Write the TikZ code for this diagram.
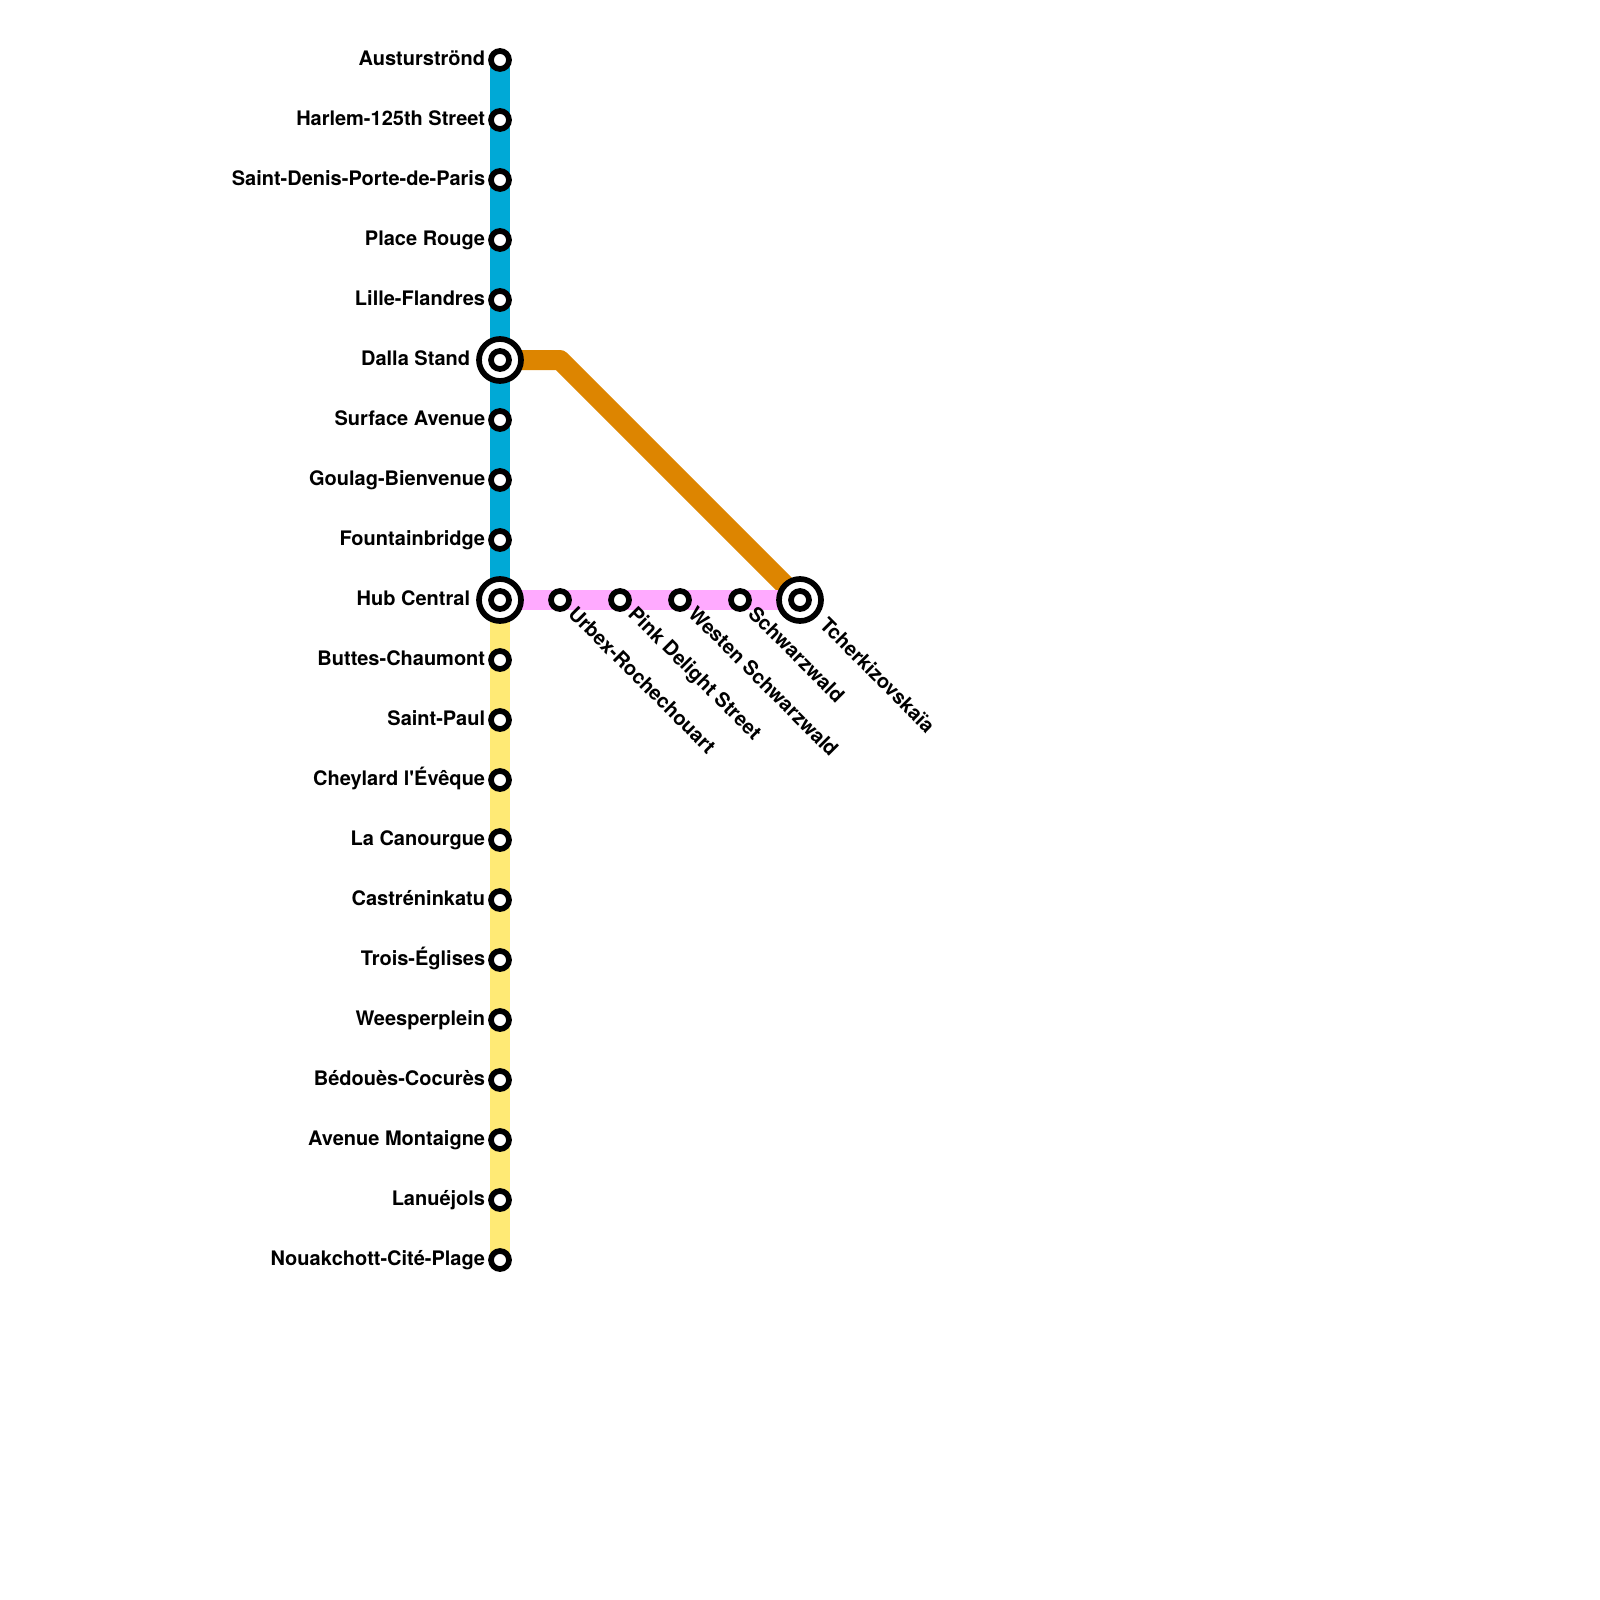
\documentclass[tikz,border=0pt]{standalone}
\usepackage{fontspec}
\newfontfamily\stationfont{TeX Gyre Heros}
\usepackage{xcolor}
\usetikzlibrary{positioning, backgrounds}
\definecolor{lineblue}{HTML}{00A9D6}
\definecolor{lineyellow}{HTML}{FFEA75}
\definecolor{linepink}{HTML}{FFAAFF}
\definecolor{lineorange}{HTML}{DD8500}

\begin{document}
\begin{tikzpicture}[
    station/.style={draw, circle, on grid, fill=white, line width=0.057cm, minimum size=0.18cm, inner sep=0pt},
    hub/.style={draw, circle, on grid, fill=white, line width=0.057cm, minimum size=0.42cm, inner sep=0pt},
    stationname/.style={inner sep=0pt, text height=0.145cm, text depth=0.035cm, font=\stationfont\bfseries\fontsize{5.69pt}{7pt}\selectfont},
    slantname/.style={stationname, rotate=-45, anchor=west, xshift=0.15cm},
    metro/.style={line width=0.2cm, #1, line join=round},
]
    \useasboundingbox (0,0) rectangle (16,-16);

    % Stations from top to bottom
    \node[station] (austur) at (5,-0.6) {};
    \node[station, below=0.6cm of austur] (harlem) {};
    \node[station, below=0.6cm of harlem] (denis) {};
    \node[station, below=0.6cm of denis] (rouge) {};
    \node[station, below=0.6cm of rouge] (lille) {};
    \node[hub, below=0.6cm of lille] (dalla) {};
    \node[station, at=(dalla)] (dallatarget) {};
    \node[station, below=0.6cm of dalla] (surface) {};
    \node[station, below=0.6cm of surface] (goulag) {};
    \node[station, below=0.6cm of goulag] (fountain) {};
    \node[hub, below=0.6cm of fountain] (central) {};
    \node[station, at=(central)] (centraltarget) {};
    \node[station, below=0.6cm of central] (buttes) {};
    \node[station, below=0.6cm of buttes] (paul) {};
    \node[station, below=0.6cm of paul] (cheylard) {};
    \node[station, below=0.6cm of cheylard] (canourgue) {};
    \node[station, below=0.6cm of canourgue] (castre) {};
    \node[station, below=0.6cm of castre] (eglises) {};
    \node[station, below=0.6cm of eglises] (weesper) {};
    \node[station, below=0.6cm of weesper] (bedoues) {};
    \node[station, below=0.6cm of bedoues] (montaigne) {};
    \node[station, below=0.6cm of montaigne] (lanue) {};
    \node[station, below=0.6cm of lanue] (nouak) {};

    % Stations from left to right
    \node[station, right=0.6cm of central] (urbex) {};
    \node[station, right=0.6cm of urbex] (pink) {};
    \node[station, right=0.6cm of pink] (westen) {};
    \node[station, right=0.6cm of westen] (schwarz) {};
    \node[hub, right=0.6cm of schwarz] (tcher) {};
    \node[station, at=(tcher)] (tchertarget) {};
    \coordinate[on grid, right=0.6cm of dalla] (bend);

    % Names
    \node[stationname, left=0.142cm of austur.center] (austurname) {Austurströnd};
    \node[stationname, left=0.142cm of harlem.center] (harlemname) {Harlem-125th Street};
    \node[stationname, left=0.142cm of denis.center] (denisname) {Saint-Denis-Porte-de-Paris};
    \node[stationname, left=0.142cm of rouge.center] (rougename) {Place Rouge};
    \node[stationname, left=0.142cm of lille.center] (lillename) {Lille-Flandres};
    \node[stationname, left=0.292cm of dalla.center] (dallaname) {Dalla Stand};
    \node[stationname, left=0.142cm of surface.center] (surfacename) {Surface Avenue};
    \node[stationname, left=0.142cm of goulag.center] (goulagname) {Goulag-Bienvenue};
    \node[stationname, left=0.142cm of fountain.center] (fountainname) {Fountainbridge};
    \node[stationname, left=0.292cm of central.center] (centralname) {Hub Central};
    \node[stationname, left=0.142cm of buttes.center] (buttesname) {Buttes-Chaumont};
    \node[stationname, left=0.142cm of paul.center] (paulname) {Saint-Paul};
    \node[stationname, left=0.142cm of cheylard.center] (cheylardname) {Cheylard l'Évêque};
    \node[stationname, left=0.142cm of canourgue.center] (canourguename) {La Canourgue};
    \node[stationname, left=0.142cm of castre.center] (castrename) {Castréninkatu};
    \node[stationname, left=0.142cm of eglises.center] (eglisesname) {Trois-Églises};
    \node[stationname, left=0.142cm of weesper.center] (weespername) {Weesperplein};
    \node[stationname, left=0.142cm of bedoues.center] (bedouesname) {Bédouès-Cocurès};
    \node[stationname, left=0.142cm of montaigne.center] (montaignename) {Avenue Montaigne};
    \node[stationname, left=0.142cm of lanue.center] (lanuename) {Lanuéjols};
    \node[stationname, left=0.142cm of nouak.center] (nouakname) {Nouakchott-Cité-Plage};
    \node[slantname] (urbexname) at (urbex.center) {Urbex-Rochechouart};
    \node[slantname] (pinkname) at (pink.center) {Pink Delight Street};
    \node[slantname] (westenname) at (westen.center) {Westen Schwarzwald};
    \node[slantname] (schwarzname) at (schwarz.center) {Schwarzwald};
    \node[slantname, xshift=0.16cm] (tchername) at (tcher.center) {Tcherkizovskaïa};

    % Lines
    \begin{scope}[on background layer]
        \draw[metro=lineorange] (dalla.center) -- (bend) -- (tcher.center);
        \draw[metro=linepink] (central.center) -- (tcher.center);
        \draw[metro=lineyellow] (central.center) -- (nouak.center);
        \draw[metro=lineblue] (austur.center) -- (central.center);
    \end{scope}
\end{tikzpicture}
\end{document}
